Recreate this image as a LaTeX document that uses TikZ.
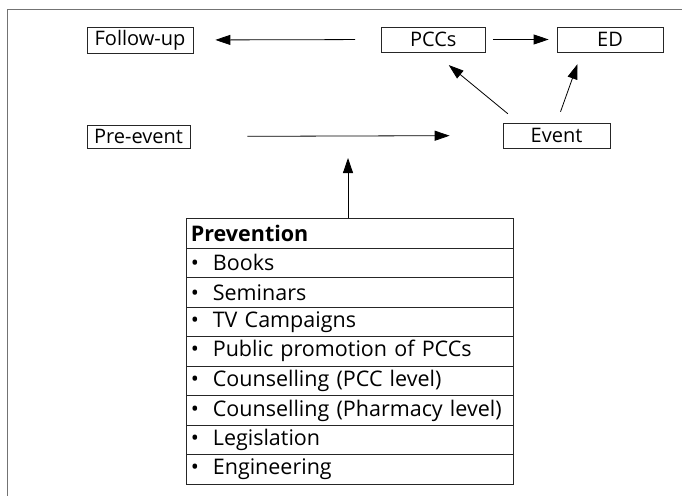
\documentclass[tikz,border=0pt]{standalone}
\usepackage{fontspec}
\setmainfont{Open Sans}
\usetikzlibrary{arrows.meta}
\tikzset{
  box/.style={draw=black!85, line width=0.7pt, inner sep=0pt, font=\fontsize{20}{22}\selectfont},
  row/.style={draw=black!85, line width=0.7pt, minimum width=327pt, minimum height=29.55pt, inner sep=0pt, anchor=north west, text width=318pt, align=left, font=\fontsize{21.5}{23}\selectfont},
  arr/.style={draw=black, line width=0.8pt, -{Triangle[length=15pt,width=10pt]}},
}
\newcommand{\bul}{\makebox[22pt][l]{•}}
\begin{document}
\begin{tikzpicture}[x=1pt,y=-1pt]
\useasboundingbox[fill=white] (0,0) rectangle (682,495);
\draw[draw=black!55, line width=0.9pt] (7,500) -- (7,9) -- (690,9);
\node[box, minimum width=106pt, minimum height=26pt] (fu) at (140,40) {Follow-up};
\node[box, minimum width=103.5pt, minimum height=25pt] (pcc) at (433.3,39.5) {PCCs};
\node[box, minimum width=106pt, minimum height=25pt] (ed) at (610,39.5) {ED};
\node[box, minimum width=103pt, minimum height=23pt] (pre) at (138.5,136.5) {Pre-event};
\node[box, minimum width=107pt, minimum height=25pt] (ev) at (556.5,135.5) {Event};
\node[row, font=\fontsize{21.5}{23}\selectfont\bfseries] (r0) at (186,218) {Prevention};
\node[row] (r1) at (186,247.55) {\bul Books};
\node[row] (r2) at (186,277.1) {\bul Seminars};
\node[row] (r3) at (186,306.65) {\bul TV Campaigns};
\node[row] (r4) at (186,336.2) {\bul Public promotion of PCCs};
\node[row] (r5) at (186,365.75) {\bul Counselling (PCC level)};
\node[row] (r6) at (186,395.3) {\bul Counselling (Pharmacy level)};
\node[row] (r7) at (186,424.85) {\bul Legislation};
\node[row] (r8) at (186,454.4) {\bul Engineering};
\coordinate (tip) at (348,158);
\draw[arr, shorten <=26pt, shorten >=22pt] (pcc.west) -- (fu.east);
\draw[arr, shorten <=7.5pt, shorten >=8pt] (pcc.east) -- (ed.west);
\draw[arr, shorten <=57pt, shorten >=53pt] (pre.east) -- (ev.west);
\draw[arr, shorten <=14pt, shorten >=20pt] ([xshift=16pt]ev.north west) -- (pcc.south);
\draw[arr, shorten <=11.5pt, shorten >=12.5pt] ([xshift=54pt]ev.north west) -- ([xshift=25pt]ed.south west);
\draw[arr] (r0.north -| tip) -- (tip);
\end{tikzpicture}
\end{document}
